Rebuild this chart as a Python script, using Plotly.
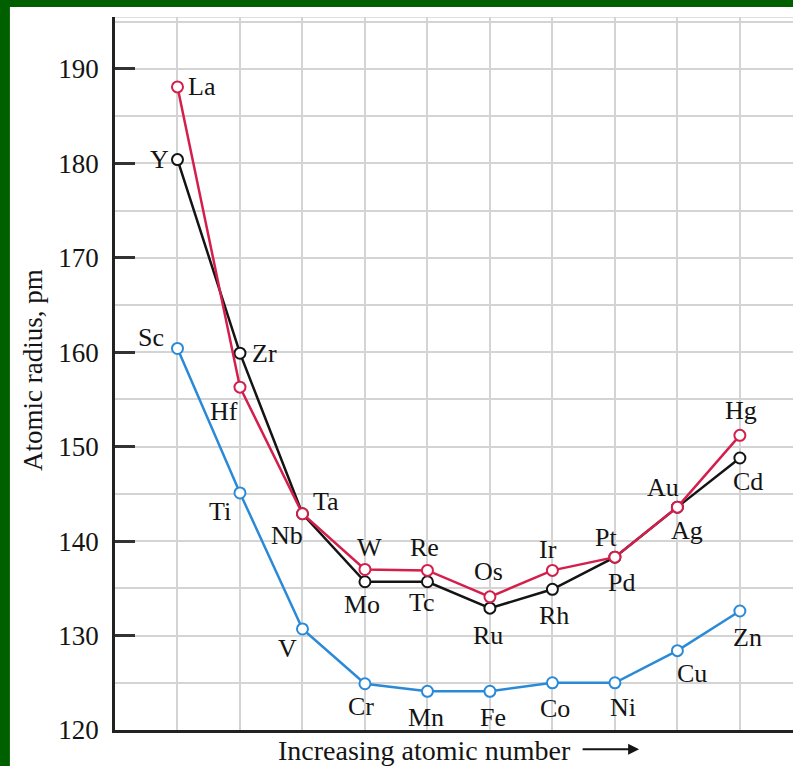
import plotly.graph_objects as go

# atomic radii (pm), columns 1..10 of the transition series
sc_row = ["Sc", "Ti", "V", "Cr", "Mn", "Fe", "Co", "Ni", "Cu", "Zn"]
sc_vals = [160.4, 145.1, 130.7, 124.9, 124.1, 124.1, 125.0, 125.0, 128.4, 132.6]

y_row = ["Y", "Zr", "Nb", "Mo", "Tc", "Ru", "Rh", "Pd", "Ag", "Cd"]
y_vals = [180.4, 159.9, 142.9, 135.7, 135.7, 132.9, 134.9, 138.3, 143.6, 148.8]

la_row = ["La", "Hf", "Ta", "W", "Re", "Os", "Ir", "Pt", "Au", "Hg"]
la_vals = [188.1, 156.3, 142.9, 137.0, 136.9, 134.1, 136.9, 138.3, 143.6, 151.2]

columns = list(range(1, 11))
y_ticks = [120, 130, 140, 150, 160, 170, 180, 190]

# label offsets (pixels, dx right, dy down) from each marker
sc_off = [(-26, -11), (-20, 19), (-15, 20), (-4, 23), (-1, 26),
          (3, 26), (3, 26), (8, 25), (15, 23), (8, 26)]
y_off = [(-18, 0), (25, 0), (-15, 22), (-3, 23), (-5, 21),
         (-2, 27), (2, 26), (7, 25), (10, 23), (8, 23)]
la_off = [(25, 0), (-16, 24), (24, -12), (5, -22), (-3, -23),
          (-1, -25), (-4, -21), (-9, -20), (-14, -20), (1, -25)]

BLUE = "#2a8ad8"
BLACK = "#141414"
RED = "#d41f4c"
GRID = "#d4d4d4"
TEXT = "#141414"
FONT = "Liberation Serif"

fig = go.Figure()

for names, vals, offs, color in [
    (sc_row, sc_vals, sc_off, BLUE),
    (y_row, y_vals, y_off, BLACK),
    (la_row, la_vals, la_off, RED),
]:
    fig.add_trace(go.Scatter(
        x=columns, y=vals, mode="lines+markers",
        line=dict(color=color, width=2.5),
        marker=dict(size=11, color="white", line=dict(color=color, width=2)),
        showlegend=False, hoverinfo="skip",
    ))
    for xv, yv, name, (dx, dy) in zip(columns, vals, names, offs):
        fig.add_annotation(
            x=xv, y=yv, text=name, showarrow=False,
            xshift=dx, yshift=-dy,
            font=dict(family=FONT, size=26, color=TEXT),
        )

# white page inside the green frame
fig.add_shape(type="rect", xref="paper", yref="paper",
              x0=-0.155, x1=1.05, y0=-0.1, y1=1.014,
              fillcolor="white", line_width=0, layer="below")
# top border of the grid
fig.add_shape(type="line", xref="paper", yref="y",
              x0=0, x1=1, y0=195.5, y1=195.5,
              line=dict(color=GRID, width=1.5), layer="below")

fig.add_annotation(
    x=-0.121, y=0.505, xref="paper", yref="paper", text="Atomic radius, pm",
    textangle=-90, showarrow=False, xanchor="center", yanchor="middle",
    font=dict(family=FONT, size=27, color=TEXT),
)
fig.add_annotation(
    x=0.456, y=-0.029, xref="paper", yref="paper", text="Increasing atomic number",
    showarrow=False, xanchor="center", yanchor="middle",
    font=dict(family=FONT, size=28, color=TEXT),
)
fig.add_annotation(
    x=0.773, y=-0.027, xref="paper", yref="paper", text="",
    showarrow=True, ax=-58, ay=0, arrowhead=2, arrowsize=1.1,
    arrowwidth=2, arrowcolor=TEXT,
)

fig.update_xaxes(
    range=[0, 10.85], tickvals=columns, showticklabels=False, ticks="",
    showgrid=True, gridcolor=GRID, gridwidth=1.5, zeroline=False,
    showline=True, linecolor="#222222", linewidth=2.5,
)
fig.update_yaxes(
    range=[120, 195.5], tickvals=y_ticks, ticks="inside", ticklen=20,
    tickwidth=2.5, tickcolor="#333333", ticklabelstandoff=8,
    tickfont=dict(family=FONT, size=27, color=TEXT),
    showgrid=True, gridcolor=GRID, gridwidth=1.5, zeroline=False,
    minor=dict(dtick=5, tick0=120, showgrid=True, gridcolor=GRID, gridwidth=1.5, ticks=""),
    showline=True, linecolor="#222222", linewidth=2.5,
)

fig.update_layout(
    width=793, height=766,
    margin=dict(l=115, r=0, t=17, b=36),
    paper_bgcolor="#006000", plot_bgcolor="white",
)

# drop the page's default body margin so the figure fills the window exactly
fig.write_html(
    "out.html",
    config={"displayModeBar": False},
    post_script="document.body.style.margin='0';document.body.style.overflow='hidden';",
)
